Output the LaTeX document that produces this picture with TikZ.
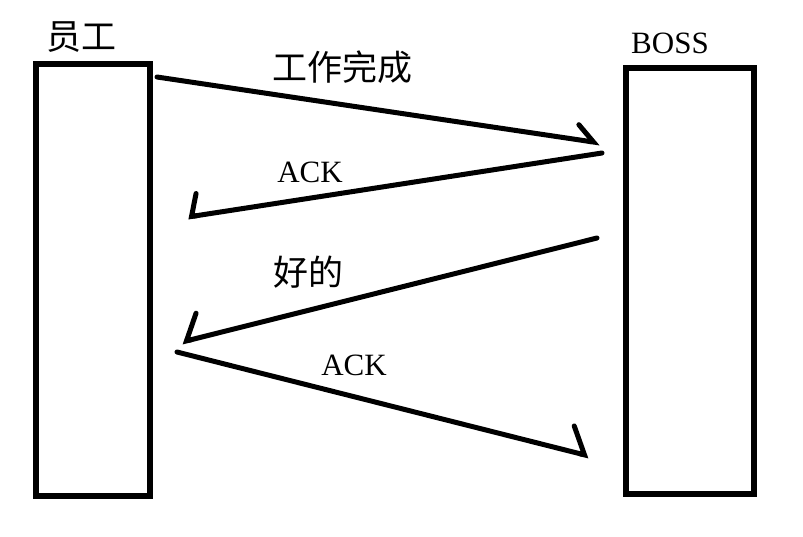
\documentclass[tikz,border=0pt]{standalone}
\usepackage{fontspec}
\setmainfont{Liberation Serif}
\newfontfamily\cjk{Noto Sans CJK SC}
\usepackage{tikz}
\usetikzlibrary{arrows.meta, positioning}

\begin{document}
\begin{tikzpicture}[
  x=1pt, y=-1pt,
  party/.style={rectangle, draw, line width=6pt, inner sep=0pt},
  msg/.style={line width=5pt, line cap=round},
  tag/.style={font=\fontsize{31}{36}\selectfont},
  cjktag/.style={font=\cjk\fontsize{35}{40}\selectfont}
]
  \useasboundingbox (0,0) rectangle (803,536);

  % the two parties
  \node[party, minimum width=114pt, minimum height=432pt] (staff) at (93,280) {};
  \node[party, minimum width=128pt, minimum height=426pt] (boss) at (690,281) {};
  \node[cjktag] (staffname) at (81,37) {员工};
  \node[tag] (bossname) at (670,43) {BOSS};

  % end points of the messages
  \coordinate (m1s) at (157,77);
  \coordinate (m1e) at (600,143);
  \coordinate (m2s) at (602,153);
  \coordinate (m2e) at (188,217);
  \coordinate (m3s) at (597,238);
  \coordinate (m3e) at (182,342);
  \coordinate (m4s) at (177,352);
  \coordinate (m4e) at (589,456);

  \draw[msg, -{Straight Barb[left, length=17pt, width=30pt, line cap=round]}] (m1s) -- (m1e);
  \draw[msg, -{Straight Barb[right, length=8pt, width=44pt, line cap=round]}] (m2s) -- (m2e);
  \draw[msg, -{Straight Barb[right, length=16pt, width=49pt, line cap=round]}] (m3s) -- (m3e);
  \draw[msg, -{Straight Barb[left, length=17pt, width=51pt, line cap=round]}] (m4s) -- (m4e);

  % message labels
  \node[cjktag] (done) at (342,67) {工作完成};
  \node[tag] (ack1) at (310,172) {ACK};
  \node[cjktag] (okay) at (308,272) {好的};
  \node[tag] (ack2) at (354,365) {ACK};
\end{tikzpicture}
\end{document}
